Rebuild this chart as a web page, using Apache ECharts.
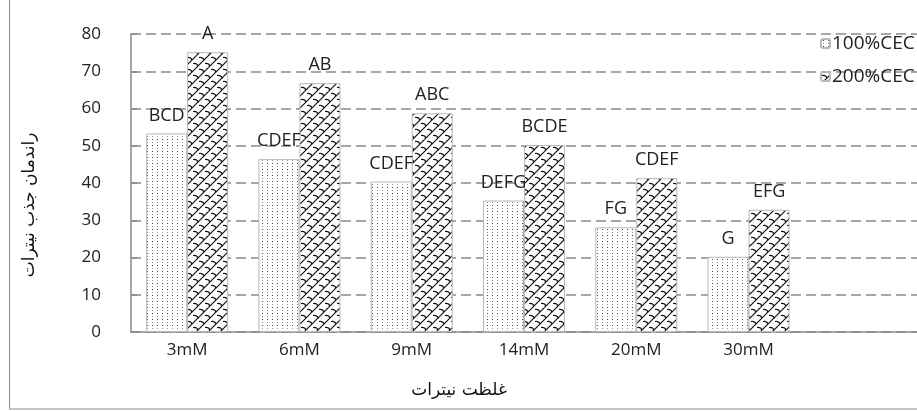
<!DOCTYPE html>
<html>
<head>
<meta charset="utf-8">
<script src="https://cdn.jsdelivr.net/npm/echarts@6/dist/echarts.min.js"></script>
<style>
  html, body { margin: 0; padding: 0; background: #fff; }
  #chart { width: 917px; height: 412px; }
</style>
</head>
<body>
<div id="chart"></div>
<script>
// Nitrate absorption efficiency by nitrate concentration
const categories = ['3mM', '6mM', '9mM', '14mM', '20mM', '30mM'];
const seriesNames = ['100%CEC', '200%CEC'];
const values100 = [53.3, 46.4, 40.4, 35.3, 28.1, 20.2];
const values200 = [75.1, 66.8, 58.7, 50.2, 41.3, 32.8];
const letters100 = ['BCD', 'CDEF', 'CDEF', 'DEFG', 'FG', 'G'];
const letters200 = ['A', 'AB', 'ABC', 'BCDE', 'CDEF', 'EFG'];
const yTicks = [0, 10, 20, 30, 40, 50, 60, 70, 80];

// Dotted fill
function dotPattern() {
  const c = document.createElement('canvas');
  c.width = 5; c.height = 6;
  const g = c.getContext('2d');
  g.fillStyle = '#fff';
  g.fillRect(0, 0, 5, 6);
  g.fillStyle = '#444';
  g.fillRect(2, 1, 1, 1);
  g.fillStyle = '#999';
  g.fillRect(2, 4, 1, 1);
  return c;
}

// Chain-like diagonal brick fill
function brickPattern() {
  const s = 12;
  const c = document.createElement('canvas');
  c.width = s; c.height = s;
  const g = c.getContext('2d');
  g.fillStyle = '#fff';
  g.fillRect(0, 0, s, s);
  g.strokeStyle = '#111';
  g.lineWidth = 1.2;
  g.beginPath();
  g.moveTo(-1, s + 1); g.lineTo(s + 1, -1);
  g.moveTo(-1, 1); g.lineTo(1, -1);
  g.moveTo(s - 1, s + 1); g.lineTo(s + 1, s - 1);
  g.stroke();
  g.beginPath();
  g.moveTo(1, 3.5);
  g.quadraticCurveTo(5, 3, 6, 6);
  g.moveTo(7, 9.5);
  g.quadraticCurveTo(11, 9, 12, 12);
  g.stroke();
  return c;
}

const font = '"Open Sans", "DejaVu Sans", sans-serif';
const arabicFont = '"DejaVu Sans", "Noto Sans", sans-serif';

const chart = echarts.init(document.getElementById('chart'), null, { renderer: 'canvas' });

function makeSeries(name, vals, letters, pattern) {
  return {
    name: name,
    type: 'bar',
    barWidth: 41,
    barGap: '0%',
    data: vals,
    itemStyle: {
      color: { image: pattern, repeat: 'repeat' },
      borderColor: '#b8b8b8',
      borderWidth: 1
    },
    label: {
      show: true,
      position: 'top',
      distance: 9,
      formatter: p => letters[p.dataIndex],
      fontFamily: font,
      fontSize: 18,
      color: '#222'
    }
  };
}

chart.setOption({
  animation: false,
  backgroundColor: '#fff',
  graphic: [{
    type: 'rect',
    shape: { x: 9.5, y: -5, width: 1000, height: 414 },
    style: { fill: 'none', stroke: '#8a8a8a', lineWidth: 1 },
    silent: true,
    z: -1
  }],
  legend: {
    orient: 'vertical',
    left: 815,
    top: 29,
    itemGap: 14,
    itemWidth: 9,
    itemHeight: 9,
    textStyle: { fontFamily: font, fontSize: 19, color: '#222', padding: [0, 0, 0, -3] },
    data: seriesNames
  },
  grid: { left: 131, top: 34, bottom: 80, width: 795, containLabel: false },
  xAxis: {
    type: 'category',
    data: categories.concat(['']),
    axisLine: { lineStyle: { color: '#8a8a8a', width: 1.5 } },
    axisTick: { show: false },
    axisLabel: { fontFamily: font, fontSize: 17, color: '#222', margin: 10 },
    name: 'غلظت نیترات',
    nameLocation: 'middle',
    nameGap: 50,
    nameTextStyle: { fontFamily: arabicFont, fontSize: 17, color: '#111', padding: [0, 130, 0, 0] }
  },
  yAxis: {
    type: 'value',
    min: yTicks[0],
    max: yTicks[yTicks.length - 1],
    interval: 10,
    axisLine: { show: true, lineStyle: { color: '#8a8a8a', width: 1.5 } },
    axisTick: { show: true, inside: true, length: 6, lineStyle: { color: '#8a8a8a', width: 1.5 } },
    axisLabel: { fontFamily: font, fontSize: 17, color: '#222', margin: 30 },
    splitLine: { show: true, lineStyle: { color: '#8a8a8a', width: 1.5, type: [10, 5] } },
    name: 'راندمان جذب نیترات',
    nameLocation: 'middle',
    nameRotate: 90,
    nameGap: 93,
    nameTextStyle: { fontFamily: arabicFont, fontSize: 17, color: '#111', padding: [0, 44, 0, 0] }
  },
  series: [
    makeSeries(seriesNames[0], values100, letters100, dotPattern()),
    makeSeries(seriesNames[1], values200, letters200, brickPattern())
  ]
});
</script>
</body>
</html>
